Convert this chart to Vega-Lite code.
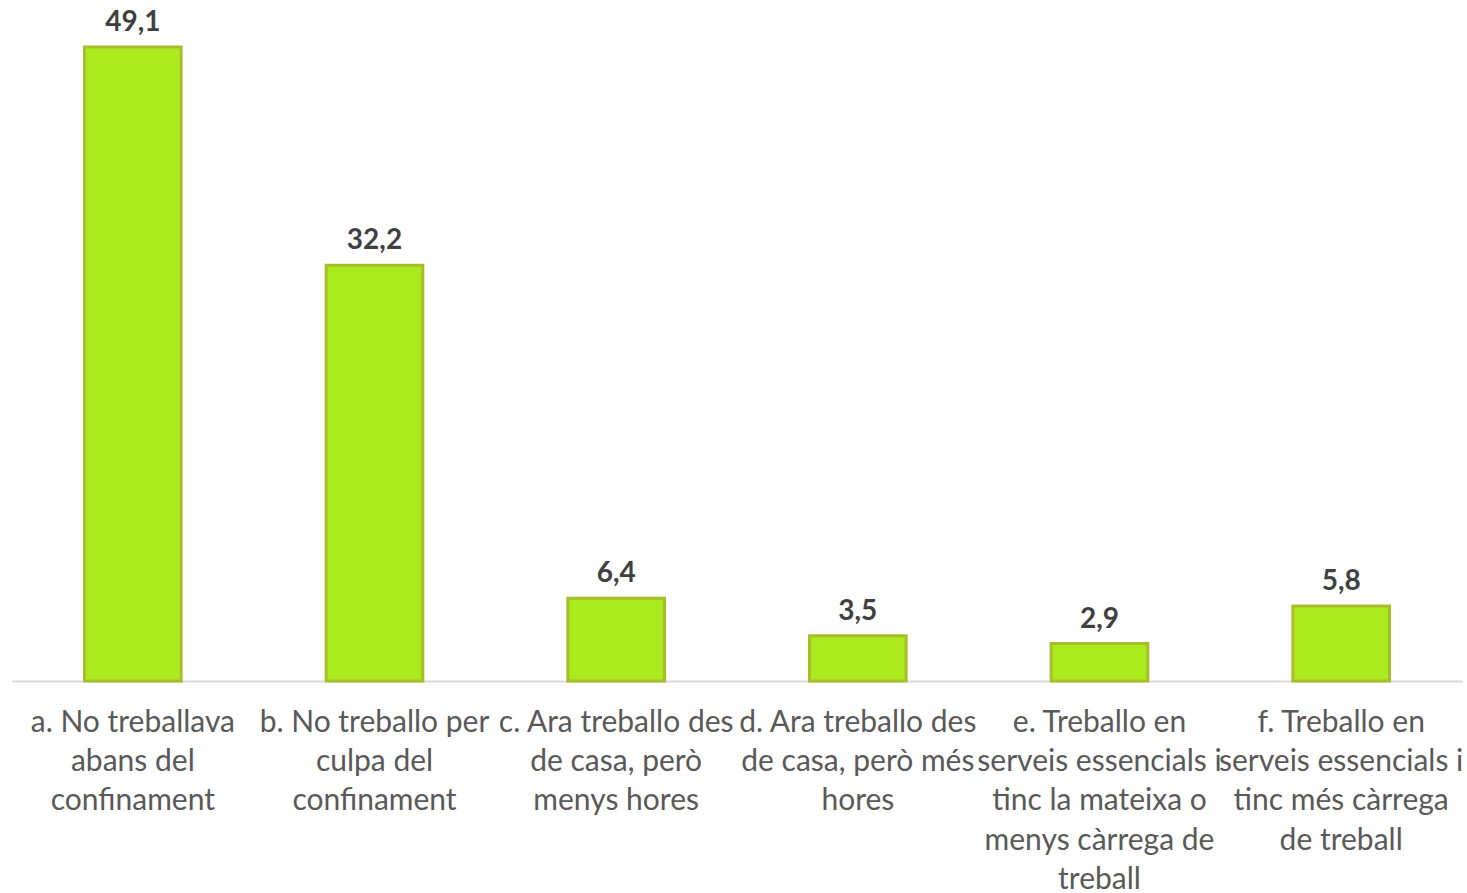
{
  "$schema": "https://vega.github.io/schema/vega-lite/v6.json",
  "width": 1450,
  "height": 645.6,
  "autosize": {"type": "none"},
  "padding": {"left": 12, "top": 35.4, "right": 5, "bottom": 212},
  "background": "white",
  "config": {
    "view": {"stroke": null},
    "locale": {"number": {"decimal": ",", "thousands": ".", "grouping": [3], "currency": ["", " €"]}},
    "font": "Lato"
  },
  "data": {
    "values": [
      {"cat": "a. No treballava|abans del|confinament", "value": 49.1},
      {"cat": "b. No treballo per|culpa del|confinament", "value": 32.2},
      {"cat": "c. Ara treballo des|de casa, però|menys hores", "value": 6.4},
      {"cat": "d. Ara treballo des|de casa, però més|hores", "value": 3.5},
      {"cat": "e. Treballo en|serveis essencials i|tinc la mateixa o|menys càrrega de|treball", "value": 2.9},
      {"cat": "f. Treballo en|serveis essencials i|tinc més càrrega|de treball", "value": 5.8}
    ]
  },
  "encoding": {
    "x": {
      "field": "cat", "type": "nominal", "sort": null,
      "scale": {"paddingInner": 0.6, "paddingOuter": 0.3},
      "axis": {
        "title": null, "labelAngle": 0, "ticks": false,
        "domainColor": "#D9D9D9", "domainWidth": 2,
        "labelExpr": "split(datum.label, '|')",
        "labelFontSize": 30, "labelColor": "#595959", "labelFont": "Lato",
        "labelLineHeight": 39.4, "labelPadding": 41, "labelOverlap": false, "labelBound": false,
        "labelLimit": 0, "labelBaseline": "middle"
      }
    },
    "y": {
      "field": "value", "type": "quantitative",
      "scale": {"domain": [0, 50], "nice": false},
      "axis": null
    }
  },
  "layer": [
    {"mark": {"type": "bar", "color": "#ABEB1E", "stroke": "#A9BD2B", "strokeWidth": 3}},
    {"mark": {"type": "text", "baseline": "bottom", "dy": -10, "fontSize": 28, "fontWeight": "bold", "color": "#404040", "font": "Lato"},
     "encoding": {"text": {"field": "value", "type": "quantitative", "format": ".1f"}}}
  ]
}
